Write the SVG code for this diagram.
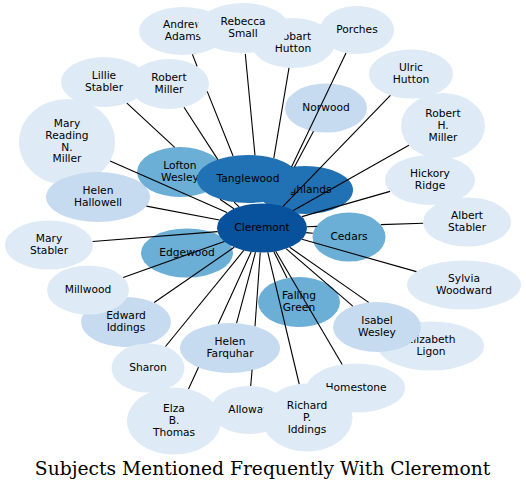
<svg xmlns="http://www.w3.org/2000/svg" width="526" height="491" viewBox="0 0 526 491">
<style>
.n ellipse{stroke:none}
.l0{fill:#deebf7}
.l1{fill:#c6dbef}
.l2{fill:#6baed6}
.l3{fill:#2171b5}
.l4{fill:#08519c}
.n text{font-family:"DejaVu Sans","Liberation Sans",sans-serif;font-size:10.67px;fill:#000;text-anchor:middle}
#edges path{fill:none;stroke:#000;stroke-width:1.1}
.title{font-family:"DejaVu Serif","Liberation Serif",serif;font-size:18.7px;fill:#000;text-anchor:middle}
</style>
<rect width="526" height="491" fill="#fff"/>
<g id="nodes">
<g id="andrew-adams" class="n"><ellipse class="l0" cx="183" cy="31" rx="44" ry="24"/><text x="183" y="27.8">Andrew</text><text x="183" y="39.5">Adams</text></g>
<g id="hobart-hutton" class="n"><ellipse class="l0" cx="293" cy="43" rx="42" ry="25"/><text x="293" y="39.8">Hobart</text><text x="293" y="51.5">Hutton</text></g>
<g id="porches" class="n"><ellipse class="l0" cx="357" cy="30" rx="37" ry="24"/><text x="357" y="33">Porches</text></g>
<g id="rebecca-small" class="n"><ellipse class="l0" cx="243" cy="28" rx="46" ry="25"/><text x="243" y="24.8">Rebecca</text><text x="243" y="36.5">Small</text></g>
<g id="ulric-hutton" class="n"><ellipse class="l0" cx="411" cy="74" rx="42" ry="24.5"/><text x="411" y="70.8">Ulric</text><text x="411" y="82.5">Hutton</text></g>
<g id="robert-h-miller" class="n"><ellipse class="l0" cx="443" cy="126" rx="42" ry="33"/><text x="443" y="117.1">Robert</text><text x="443" y="128.8">H.</text><text x="443" y="140.5">Miller</text></g>
<g id="hickory-ridge" class="n"><ellipse class="l0" cx="430" cy="180" rx="45" ry="25"/><text x="430" y="176.8">Hickory</text><text x="430" y="188.5">Ridge</text></g>
<g id="norwood" class="n"><ellipse class="l1" cx="326" cy="108" rx="41" ry="24.5"/><text x="326" y="111">Norwood</text></g>
<g id="lillie-stabler" class="n"><ellipse class="l0" cx="104" cy="82" rx="43" ry="25"/><text x="104" y="78.8">Lillie</text><text x="104" y="90.5">Stabler</text></g>
<g id="robert-miller" class="n"><ellipse class="l0" cx="169" cy="84" rx="40" ry="25"/><text x="169" y="80.8">Robert</text><text x="169" y="92.5">Miller</text></g>
<g id="mary-reading-n-miller" class="n"><ellipse class="l0" cx="67" cy="142" rx="48" ry="43"/><text x="67" y="127.2">Mary</text><text x="67" y="138.9">Reading</text><text x="67" y="150.6">N.</text><text x="67" y="162.3">Miller</text></g>
<g id="helen-hallowell" class="n"><ellipse class="l1" cx="98" cy="197" rx="52" ry="25"/><text x="98" y="193.8">Helen</text><text x="98" y="205.5">Hallowell</text></g>
<g id="lofton-wesley" class="n"><ellipse class="l2" cx="180" cy="172" rx="43" ry="25"/><text x="180" y="168.8">Lofton</text><text x="180" y="180.5">Wesley</text></g>
<g id="highlands" class="n"><ellipse class="l3" cx="305" cy="190" rx="48" ry="24"/><text x="305" y="193">Highlands</text></g>
<g id="tanglewood" class="n"><ellipse class="l3" cx="248" cy="179" rx="51" ry="24"/><text x="248" y="182">Tanglewood</text></g>
<g id="mary-stabler" class="n"><ellipse class="l0" cx="49" cy="245" rx="44" ry="24.5"/><text x="49" y="241.8">Mary</text><text x="49" y="253.5">Stabler</text></g>
<g id="edgewood" class="n"><ellipse class="l2" cx="187" cy="253" rx="46" ry="24.5"/><text x="187" y="256">Edgewood</text></g>
<g id="edward-iddings" class="n"><ellipse class="l1" cx="126" cy="322" rx="45" ry="25"/><text x="126" y="318.8">Edward</text><text x="126" y="330.5">Iddings</text></g>
<g id="millwood" class="n"><ellipse class="l0" cx="88" cy="290" rx="41" ry="24.5"/><text x="88" y="293">Millwood</text></g>
<g id="sharon" class="n"><ellipse class="l0" cx="148" cy="368" rx="36.5" ry="24.5"/><text x="148" y="371">Sharon</text></g>
<g id="helen-farquhar" class="n"><ellipse class="l1" cx="230" cy="348" rx="50" ry="25"/><text x="230" y="344.8">Helen</text><text x="230" y="356.5">Farquhar</text></g>
<g id="elza-b-thomas" class="n"><ellipse class="l0" cx="174" cy="421" rx="47" ry="33.5"/><text x="174" y="412.1">Elza</text><text x="174" y="423.8">B.</text><text x="174" y="435.5">Thomas</text></g>
<g id="alloway" class="n"><ellipse class="l0" cx="249" cy="410" rx="38" ry="24"/><text x="249" y="413">Alloway</text></g>
<g id="homestone" class="n"><ellipse class="l0" cx="356" cy="388" rx="49" ry="24.5"/><text x="356" y="391">Homestone</text></g>
<g id="richard-p-iddings" class="n"><ellipse class="l0" cx="307" cy="417.5" rx="45.5" ry="34"/><text x="307" y="409.1">Richard</text><text x="307" y="420.8">P.</text><text x="307" y="432.5">Iddings</text></g>
<g id="falling-green" class="n"><ellipse class="l2" cx="299" cy="302" rx="41" ry="25"/><text x="299" y="298.8">Falling</text><text x="299" y="310.5">Green</text></g>
<g id="elizabeth-ligon" class="n"><ellipse class="l0" cx="431" cy="346" rx="53" ry="24.5"/><text x="431" y="342.8">Elizabeth</text><text x="431" y="354.5">Ligon</text></g>
<g id="isabel-wesley" class="n"><ellipse class="l1" cx="377" cy="327" rx="44" ry="25"/><text x="377" y="323.8">Isabel</text><text x="377" y="335.5">Wesley</text></g>
<g id="sylvia-woodward" class="n"><ellipse class="l0" cx="464" cy="285" rx="57" ry="24.5"/><text x="464" y="281.8">Sylvia</text><text x="464" y="293.5">Woodward</text></g>
<g id="cedars" class="n"><ellipse class="l2" cx="349" cy="237" rx="36.5" ry="24.5"/><text x="349" y="240">Cedars</text></g>
<g id="albert-stabler" class="n"><ellipse class="l0" cx="467" cy="222" rx="44" ry="24.5"/><text x="467" y="218.8">Albert</text><text x="467" y="230.5">Stabler</text></g>
<g id="cleremont" class="n"><ellipse class="l4" cx="262" cy="228" rx="45" ry="24.5"/><text x="262" y="231">Cleremont</text></g>
</g>
<g id="edges">
<path d="M233.1,156 L207.2,91.4 M197.1,66.2 L192.4,54.4"/>
<path d="M255,155.2 L245.3,54"/>
<path d="M273.8,158.2 L289,67.9"/>
<path d="M291.5,167 L346,52.9"/>
<path d="M294.3,167.3 L313.5,131.3"/>
<path d="M283,206.3 L390.4,95.3"/>
<path d="M293.3,210.4 L408.9,145.2"/>
<path d="M301.9,216.6 L390,191.4"/>
<path d="M233.95,208.8 L220,199.2"/>
<path d="M239.2,206.9 L234,202.1 M174.7,147.4 L126.9,103.2"/>
<path d="M217.9,159.6 L184,107.2"/>
<path d="M227,212.6 L110.1,161"/>
<path d="M219.5,220 L146.4,206.1"/>
<path d="M217.5,231.6 L92.6,241.5"/>
<path d="M224.3,241.4 L123.2,277.5"/>
<path d="M234.2,247.3 L154.2,302.5"/>
<path d="M243.8,250.4 L165.5,346.5"/>
<path d="M255.5,252.2 L236.6,323.2"/>
<path d="M251.2,251.8 L218.3,323.7 M198.5,367.3 L188.5,389.1"/>
<path d="M260.25,252.5 L255,326.3 M252.1,369.7 L250.7,386"/>
<path d="M267.8,252.3 L299.2,384"/>
<path d="M275.7,251.3 L342.2,364.5"/>
<path d="M273.8,251.6 L287,278.1"/>
<path d="M286.1,248.7 L352.8,306.1"/>
<path d="M289.7,247.3 L368.6,302.4"/>
<path d="M302,239.3 L416.4,271.6"/>
<path d="M306.2,232.6 L312.9,233.3"/>
<path d="M306.9,226.7 L317.2,226.4 M380.8,224.6 L423.1,223.3"/>
</g>
<text class="title" x="262.5" y="475">Subjects Mentioned Frequently With Cleremont</text>
</svg>
